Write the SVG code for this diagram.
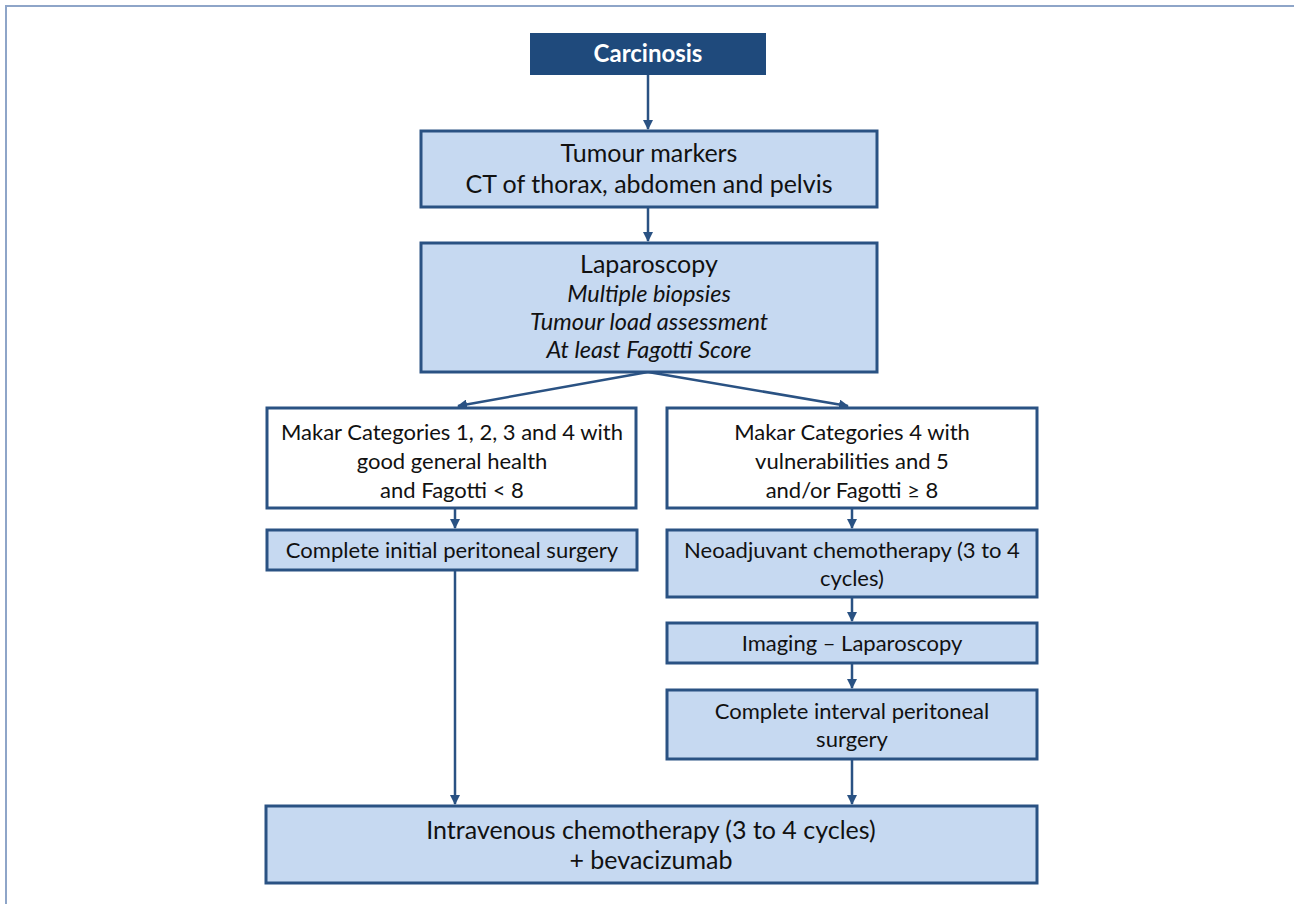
<svg xmlns="http://www.w3.org/2000/svg" width="1294" height="904" viewBox="0 0 1294 904">
<defs>
<style>
.box{fill:#c6d9f1;stroke:#2a5283;stroke-width:3}
.wbox{fill:#ffffff;stroke:#2a5283;stroke-width:3}
.t{font-family:Lato,"Open Sans",sans-serif;font-size:22px;fill:#111;text-anchor:middle}
.tl{font-family:Lato,"Open Sans",sans-serif;font-size:25px;fill:#111;text-anchor:middle}
.it{font-family:Lato,"Open Sans",sans-serif;font-size:23.5px;fill:#111;text-anchor:middle;font-style:italic}
.c{stroke:#2a5283;stroke-width:2.5;fill:none}
</style>
<marker id="ah" viewBox="0 0 10 10" refX="9" refY="5" markerWidth="4" markerHeight="4" orient="auto" markerUnits="strokeWidth">
<path d="M0,0 L10,5 L0,10 z" fill="#2a5283"/>
</marker>
</defs>
<rect width="1294" height="904" fill="#ffffff"/>
<path d="M6,904 V6 H1294" fill="none" stroke="#8ea5c8" stroke-width="2"/>

<g id="connectors">
<line class="c" x1="648" y1="75" x2="648" y2="129" marker-end="url(#ah)"/>
<line class="c" x1="648" y1="207" x2="648" y2="241" marker-end="url(#ah)"/>
<line class="c" x1="648" y1="372" x2="458" y2="406" marker-end="url(#ah)"/>
<line class="c" x1="648" y1="372" x2="848" y2="406" marker-end="url(#ah)"/>
<line class="c" x1="455" y1="508" x2="455" y2="528" marker-end="url(#ah)"/>
<line class="c" x1="852" y1="508" x2="852" y2="528" marker-end="url(#ah)"/>
<line class="c" x1="852" y1="597" x2="852" y2="621" marker-end="url(#ah)"/>
<line class="c" x1="852" y1="663" x2="852" y2="688" marker-end="url(#ah)"/>
<line class="c" x1="852" y1="759" x2="852" y2="804" marker-end="url(#ah)"/>
<line class="c" x1="455" y1="570" x2="455" y2="804" marker-end="url(#ah)"/>
</g>

<g id="carcinosis">
<rect x="530" y="33" width="236" height="42" fill="#1f4a7c"/>
<text x="648" y="62" font-family="Lato,'Open Sans',sans-serif" font-size="24" font-weight="bold" fill="#ffffff" text-anchor="middle">Carcinosis</text>
</g>

<g id="tumour">
<rect class="box" x="421" y="131" width="456" height="76"/>
<text class="tl" x="649" y="162">Tumour markers</text>
<text class="tl" x="649" y="193">CT of thorax, abdomen and pelvis</text>
</g>

<g id="laparoscopy">
<rect class="box" x="421" y="243" width="456" height="129"/>
<text class="tl" x="649" y="273">Laparoscopy</text>
<text class="it" x="649" y="302">Multiple biopsies</text>
<text class="it" x="649" y="330">Tumour load assessment</text>
<text class="it" x="649" y="358">At least Fagotti Score</text>
</g>

<g id="makar-left">
<rect class="wbox" x="267" y="408" width="369" height="100"/>
<text class="t" x="452" y="440">Makar Categories 1, 2, 3 and 4 with</text>
<text class="t" x="452" y="469">good general health</text>
<text class="t" x="452" y="498">and Fagotti &lt; 8</text>
</g>

<g id="makar-right">
<rect class="wbox" x="667" y="408" width="370" height="100"/>
<text class="t" x="852" y="440">Makar Categories 4 with</text>
<text class="t" x="852" y="469">vulnerabilities and 5</text>
<text class="t" x="852" y="498">and/or Fagotti ≥ 8</text>
</g>

<g id="initial-surgery">
<rect class="box" x="267" y="530" width="370" height="40"/>
<text class="t" x="452" y="558">Complete initial peritoneal surgery</text>
</g>

<g id="neoadjuvant">
<rect class="box" x="667" y="530" width="370" height="67"/>
<text class="t" x="852" y="558">Neoadjuvant chemotherapy (3 to 4</text>
<text class="t" x="852" y="586">cycles)</text>
</g>

<g id="imaging">
<rect class="box" x="667" y="623" width="370" height="40"/>
<text class="t" x="852" y="651">Imaging – Laparoscopy</text>
</g>

<g id="interval-surgery">
<rect class="box" x="667" y="690" width="370" height="69"/>
<text class="t" x="852" y="719">Complete interval peritoneal</text>
<text class="t" x="852" y="747">surgery</text>
</g>

<g id="iv-chemo">
<rect class="box" x="266" y="806" width="771" height="77"/>
<text class="tl" x="651" y="839">Intravenous chemotherapy (3 to 4 cycles)</text>
<text class="tl" x="651" y="869">+ bevacizumab</text>
</g>
</svg>
